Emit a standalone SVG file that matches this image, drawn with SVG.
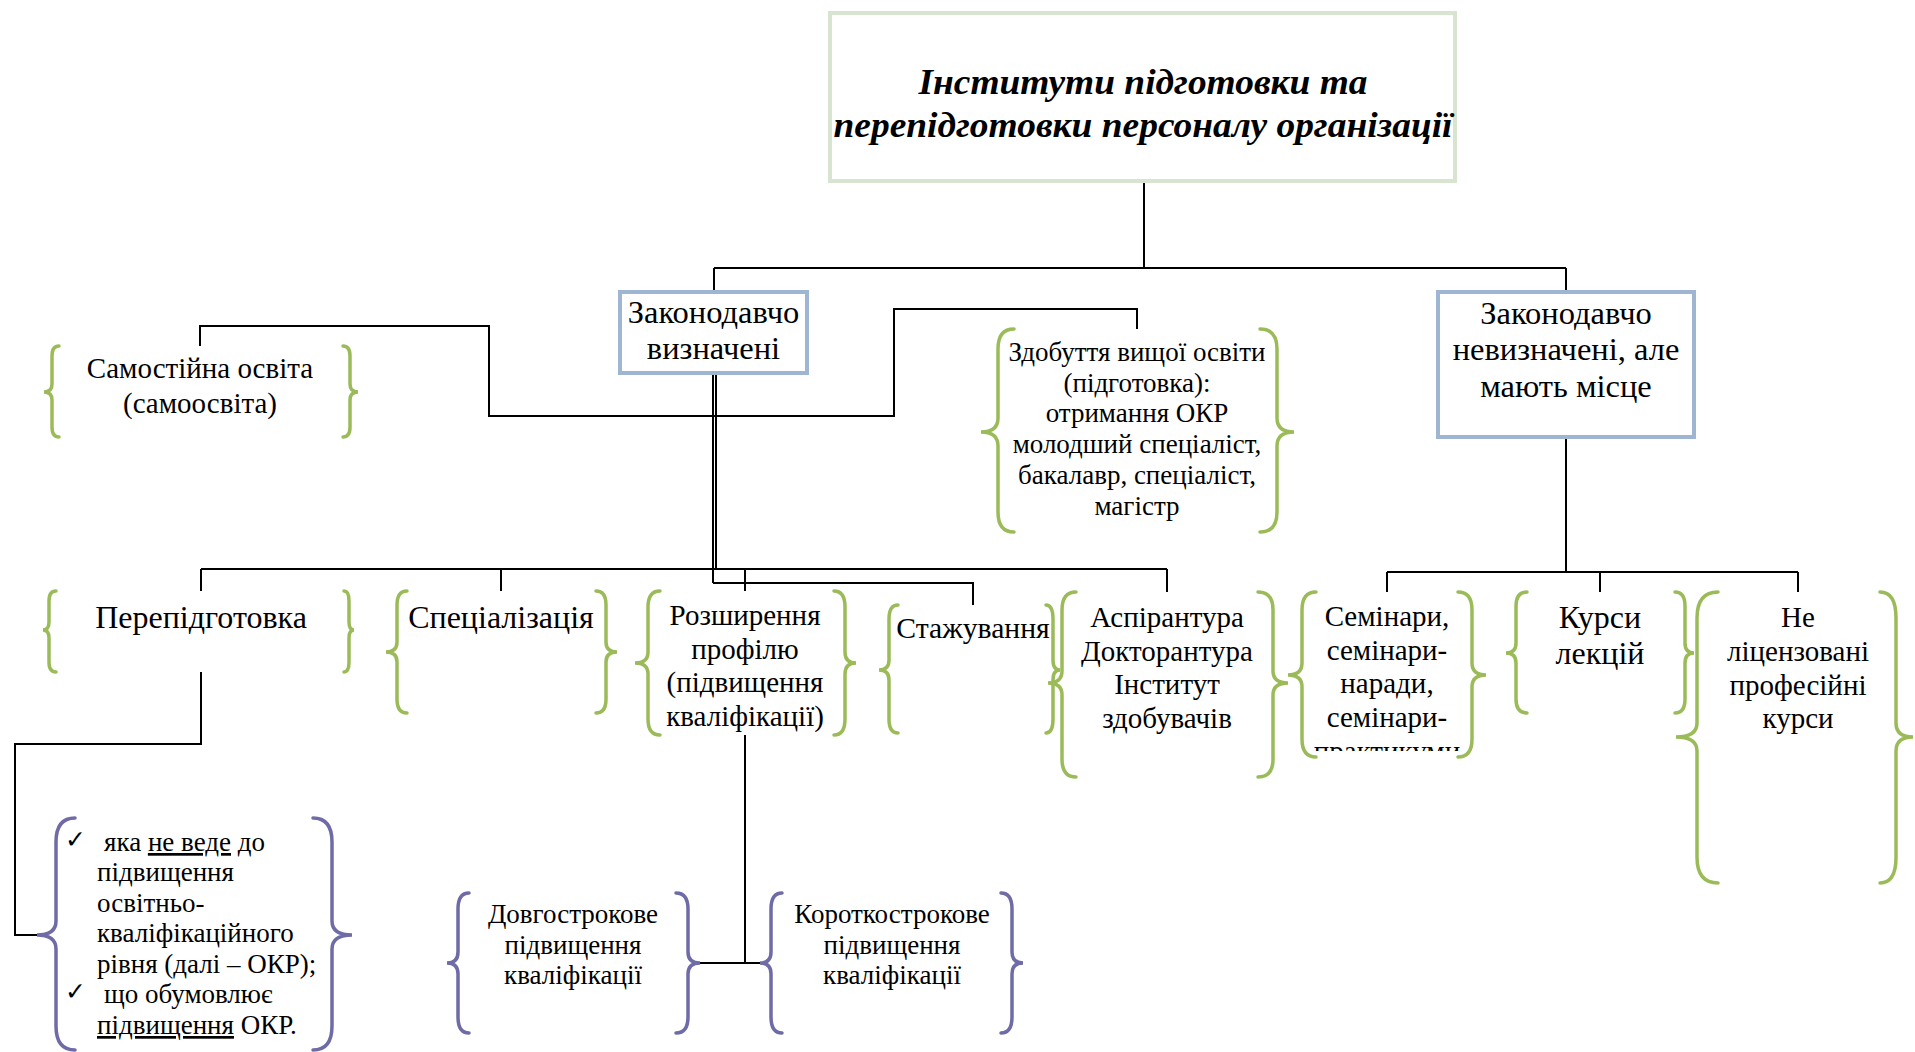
<svg xmlns="http://www.w3.org/2000/svg" width="1915" height="1052" viewBox="0 0 1915 1052">
<style>
.t{font-family:"Liberation Serif","Times New Roman",serif;fill:#000;text-anchor:middle}
.f29{font-size:29px}.f32{font-size:32px}.f31{font-size:32.5px}.f26{font-size:27px}
.title{font-family:"Liberation Serif","Times New Roman",serif;font-size:35px;font-weight:bold;font-style:italic;text-anchor:middle}
.g{fill:none;stroke:#9bbb59;stroke-width:3.5;stroke-linecap:round}
.p{fill:none;stroke:#6f6ba6;stroke-width:3.5;stroke-linecap:round}
.c{fill:none;stroke:#000;stroke-width:2}
.lt{font-family:"Liberation Serif","Times New Roman",serif;font-size:27px;fill:#000}
.ck{font-family:"DejaVu Sans",sans-serif;font-size:25px;fill:#000}
</style>
<defs><clipPath id="clipSem"><rect x="1300" y="580" width="170" height="171"/></clipPath></defs>
<rect width="1915" height="1052" fill="#fff"/>
<g id="connectors">
<path class="c" d="M1144,181 V268 M714,268 H1566 M714,268 V292 M1566,268 V292"/>
<path class="c" d="M713,373 V583 M716,373 V569"/>
<path class="c" d="M201,569 H1167 M201,569 V591 M501,569 V591 M745,569 V591 M1167,569 V592"/>
<path class="c" d="M713,583 H973 V605"/>
<path class="c" d="M200,346 V326 H489 V416 H894 V309 H1137 V329"/>
<path class="c" d="M1566,437 V572 M1387,572 H1798 M1387,572 V592 M1600,572 V592 M1798,572 V592"/>
<path class="c" d="M201,672 V744 H15 V935 H37"/>
<path class="c" d="M745,735 V963"/>
<path class="c" stroke-width="3" d="M700,963 H760"/>
</g>
<g id="title">
<rect x="830" y="13" width="625" height="168" fill="#fff" stroke="#d7e4cf" stroke-width="4"/>
<text class="title" x="1143" y="94" textLength="449" lengthAdjust="spacingAndGlyphs">Інститути підготовки та</text>
<text class="title" x="1143" y="137" textLength="619" lengthAdjust="spacingAndGlyphs">перепідготовки персоналу організації</text>
</g>
<g id="legal">
<rect x="620" y="292" width="187" height="81" fill="#fff" stroke="#9fb6d3" stroke-width="4"/>
<text class="t f31" x="713.5" y="323">Законодавчо</text>
<text class="t f31" x="713.5" y="359">визначені</text>
</g>
<g id="notlegal">
<rect x="1438" y="292" width="256" height="145" fill="#fff" stroke="#9fb6d3" stroke-width="4"/>
<text class="t f31" x="1566" y="324">Законодавчо</text>
<text class="t f31" x="1566" y="360">невизначені, але</text>
<text class="t f31" x="1566" y="397">мають місце</text>
</g>
<g id="self">
<path class="g" d="M59,346 Q52,346 52,356 V384 Q52,392 44,392 Q52,392 52,400 V427 Q52,437 59,437"/>
<path class="g" d="M343,346 Q350,346 350,356 V384 Q350,392 358,392 Q350,392 350,400 V427 Q350,437 343,437"/>
<text class="t f29" x="200" y="378">Самостійна освіта</text>
<text class="t f29" x="200" y="413">(самоосвіта)</text>
</g>
<g id="higher">
<path class="g" d="M1014,329 Q998,329 998,349 V418 Q998,432 981,432 Q998,432 998,446 V512 Q998,532 1014,532"/>
<path class="g" d="M1260,329 Q1277,329 1277,349 V418 Q1277,432 1294,432 Q1277,432 1277,446 V512 Q1277,532 1260,532"/>
<text class="t f26" x="1137" y="361">Здобуття вищої освіти</text>
<text class="t f26" x="1137" y="392">(підготовка):</text>
<text class="t f26" x="1137" y="422">отримання ОКР</text>
<text class="t f26" x="1137" y="453">молодший спеціаліст,</text>
<text class="t f26" x="1137" y="484">бакалавр, спеціаліст,</text>
<text class="t f26" x="1137" y="515">магістр</text>
</g>
<g id="retraining">
<path class="g" d="M56,591 Q49,591 49,601 V622 Q49,630 43,630 Q49,630 49,638 V662 Q49,672 56,672"/>
<path class="g" d="M344,591 Q349,591 349,601 V622 Q349,630 354,630 Q349,630 349,638 V662 Q349,672 344,672"/>
<text class="t f32" x="201" y="628">Перепідготовка</text>
</g>
<g id="special">
<path class="g" d="M407,591 Q397,591 397,605 V642 Q397,652 386,652 Q397,652 397,662 V699 Q397,713 407,713"/>
<path class="g" d="M596,591 Q606,591 606,605 V642 Q606,652 617,652 Q606,652 606,662 V699 Q606,713 596,713"/>
<text class="t f32" x="501" y="628">Спеціалізація</text>
</g>
<g id="profile">
<path class="g" d="M660,591 Q648,591 648,607 V652 Q648,663 635,663 Q648,663 648,674 V719 Q648,735 660,735"/>
<path class="g" d="M834,591 Q845,591 845,607 V652 Q845,663 856,663 Q845,663 845,674 V719 Q845,735 834,735"/>
<text class="t f29" x="745" y="625">Розширення</text>
<text class="t f29" x="745" y="659">профілю</text>
<text class="t f29" x="745" y="692">(підвищення</text>
<text class="t f29" x="745" y="726">кваліфікації)</text>
</g>
<g id="internship">
<path class="g" d="M898,605 Q889,605 889,619 V660 Q889,670 879,670 Q889,670 889,680 V719 Q889,733 898,733"/>
<path class="g" d="M1046,605 Q1053,605 1053,619 V660 Q1053,670 1060,670 Q1053,670 1053,680 V719 Q1053,733 1046,733"/>
<text class="t" style="font-size:29.7px" x="973" y="638">Стажування</text>
</g>
<g id="postgrad">
<path class="g" d="M1076,592 Q1062,592 1062,610 V671 Q1062,683 1048,683 Q1062,683 1062,695 V759 Q1062,777 1076,777"/>
<path class="g" d="M1258,592 Q1273,592 1273,610 V671 Q1273,683 1288,683 Q1273,683 1273,695 V759 Q1273,777 1258,777"/>
<text class="t f29" x="1167" y="627">Аспірантура</text>
<text class="t f29" x="1167" y="661">Докторантура</text>
<text class="t f29" x="1167" y="694">Інститут</text>
<text class="t f29" x="1167" y="728">здобувачів</text>
</g>
<g id="seminars">
<path class="g" d="M1316,592 Q1302,592 1302,610 V663 Q1302,675 1288,675 Q1302,675 1302,687 V739 Q1302,757 1316,757"/>
<path class="g" d="M1458,592 Q1472,592 1472,610 V663 Q1472,675 1486,675 Q1472,675 1472,687 V739 Q1472,757 1458,757"/>
<g clip-path="url(#clipSem)">
<text class="t f29" x="1387" y="626">Семінари,</text>
<text class="t f29" x="1387" y="660">семінари-</text>
<text class="t f29" x="1387" y="693">наради,</text>
<text class="t f29" x="1387" y="727">семінари-</text>
<text class="t f29" x="1387" y="761">практикуми</text>
</g>
</g>
<g id="lectures">
<path class="g" d="M1527,592 Q1516,592 1516,606 V643 Q1516,653 1506,653 Q1516,653 1516,663 V699 Q1516,713 1527,713"/>
<path class="g" d="M1675,592 Q1685,592 1685,606 V643 Q1685,653 1694,653 Q1685,653 1685,663 V699 Q1685,713 1675,713"/>
<text class="t f32" x="1600" y="628">Курси</text>
<text class="t f32" x="1600" y="664">лекцій</text>
</g>
<g id="unlicensed">
<path class="g" d="M1718,592 Q1697,592 1697,618 V723 Q1697,737 1676,737 Q1697,737 1697,751 V857 Q1697,883 1718,883"/>
<path class="g" d="M1880,592 Q1896,592 1896,618 V723 Q1896,737 1913,737 Q1896,737 1896,751 V857 Q1896,883 1880,883"/>
<text class="t f29" x="1798" y="627">Не</text>
<text class="t f29" x="1798" y="661">ліцензовані</text>
<text class="t f29" x="1798" y="695">професійні</text>
<text class="t f29" x="1798" y="728">курси</text>
</g>
<g id="retraining-note">
<path class="p" d="M75,818 Q56,818 56,842 V921 Q56,935 37,935 Q56,935 56,949 V1026 Q56,1050 75,1050"/>
<path class="p" d="M313,818 Q332,818 332,842 V921 Q332,935 352,935 Q332,935 332,949 V1026 Q332,1050 313,1050"/>
<text class="ck" x="65" y="848">✓</text>
<text class="lt" x="104" y="851">яка <tspan text-decoration="underline">не веде</tspan> до</text>
<text class="lt" x="97" y="881">підвищення</text>
<text class="lt" x="97" y="912">освітньо-</text>
<text class="lt" x="97" y="942">кваліфікаційного</text>
<text class="lt" x="97" y="973">рівня (далі – ОКР);</text>
<text class="ck" x="65" y="1000">✓</text>
<text class="lt" x="104" y="1003">що обумовлює</text>
<text class="lt" x="97" y="1034"><tspan text-decoration="underline">підвищення</tspan> ОКР.</text>
</g>
<g id="longterm">
<path class="p" d="M469,893 Q458,893 458,909 V952 Q458,963 447,963 Q458,963 458,974 V1017 Q458,1033 469,1033"/>
<path class="p" d="M676,893 Q688,893 688,909 V952 Q688,963 700,963 Q688,963 688,974 V1017 Q688,1033 676,1033"/>
<text class="t f26" x="573" y="923">Довгострокове</text>
<text class="t f26" x="573" y="954">підвищення</text>
<text class="t f26" x="573" y="984">кваліфікації</text>
</g>
<g id="shortterm">
<path class="p" d="M782,893 Q771,893 771,909 V952 Q771,963 760,963 Q771,963 771,974 V1017 Q771,1033 782,1033"/>
<path class="p" d="M1001,893 Q1012,893 1012,909 V952 Q1012,963 1023,963 Q1012,963 1012,974 V1017 Q1012,1033 1001,1033"/>
<text class="t f26" x="892" y="923">Короткострокове</text>
<text class="t f26" x="892" y="954">підвищення</text>
<text class="t f26" x="892" y="984">кваліфікації</text>
</g>
</svg>
